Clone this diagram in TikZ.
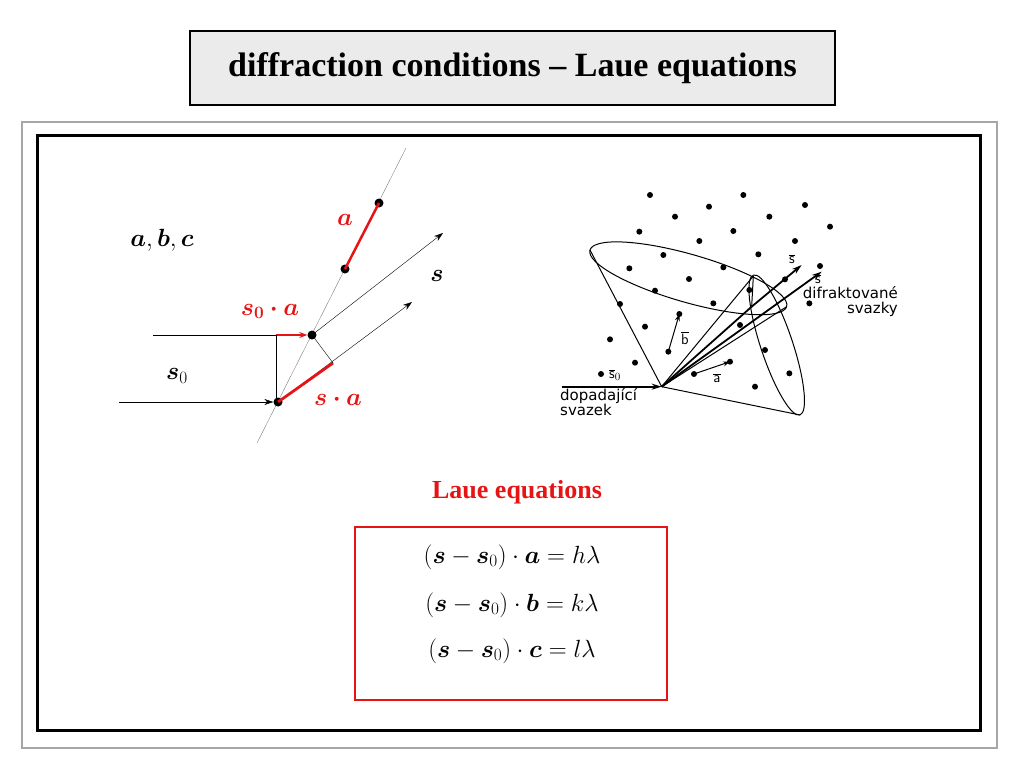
\documentclass[tikz,border=0pt]{standalone}
\usepackage{amsmath,bm}
\usepackage{fontspec}
\setmainfont{Liberation Serif}
\newfontfamily\czf{DejaVu Sans}
\usetikzlibrary{arrows.meta}
\definecolor{rd}{RGB}{230,20,20}
\begin{document}
\begin{tikzpicture}[x=1pt,y=-1pt,
  dot/.style={circle,fill=black,inner sep=0pt,minimum size=9pt},
  ray/.style={-{Stealth[length=9pt,width=6pt]},thin},
  thk/.style={-{Stealth[length=10pt,width=6pt]},line width=1.8pt},
  rl/.style={text=rd,font=\fontsize{25}{30}\selectfont},
  cz/.style={font=\czf\fontsize{15}{15}\selectfont,inner sep=0pt}]
\useasboundingbox (0,0) rectangle (1024,768);
% frames
\node[draw,line width=2pt,fill=black!8,minimum width=645pt,minimum height=74pt,anchor=north west,font=\bfseries\fontsize{34}{40}\selectfont] (title) at (189,30) {diffraction conditions -- Laue equations};
\draw[gray!70,line width=1.5pt] (22,122) rectangle (997,748);
\draw[line width=3pt] (37,135) rectangle (980,730);
% left figure
\coordinate (g1) at (257,443); \coordinate (g2) at (406,148);
\draw[gray] (g1) -- (g2);
\node[dot] (d1) at (379,203) {};
\node[dot] (d2) at (345,269) {};
\node[dot] (d3) at (312,335) {};
\node[dot] (d4) at (278,402) {};
\coordinate (e1) at (443,233); \coordinate (e2) at (412,302);
\coordinate (f) at (333,363);
\coordinate (i1) at (153,335); \coordinate (i2) at (119,402);
\coordinate (v) at (276,335); \coordinate (vb) at (276,402);
\draw[rd,line width=2.5pt] (d1.center) -- (d2.center);
\draw[ray] (d3.center) -- (e1);
\draw[ray] (d4.center) -- (e2);
\draw[rd,line width=2.8pt] (d4.center) -- (f);
\draw (d3.center) -- (f);
\draw (i1) -- (v);
\draw[rd,line width=2.5pt,-{Stealth[length=8pt,width=6pt]}] (v) -- (d3.west);
\draw (v) -- (vb);
\draw[ray] (i2) -- (d4.west);
\node[font=\fontsize{23}{28}\selectfont] (abc) at (162,240) {$\bm{a},\bm{b},\bm{c}$};
\node[font=\fontsize{23}{28}\selectfont] (sl) at (437,276) {$\bm{s}$};
\node[font=\fontsize{23}{28}\selectfont] (s0) at (177,376) {$\bm{s}_0$};
\node[rl] (l1) at (270,311) {$\bm{s_0\cdot a}$};
\node[rl] (l2) at (345,220) {$\bm{a}$};
\node[rl] (l3) at (338,400) {$\bm{s\cdot a}$};
% right figure: cone ellipses
\draw[line width=1pt,shift={(688.3,278.3)},rotate=-16] (0,0) ellipse [x radius=102.3,y radius=24];
\draw[line width=1pt,shift={(776.7,345)},rotate=-71.6] (0,0) ellipse [x radius=73.7,y radius=16];
\begin{scope}[shift={(540,170)},xscale=1/3,yscale=1/3]
\coordinate (ap) at (365,650);
\draw[line width=1pt] (ap) -- (150,240); \draw[line width=1pt] (ap) -- (780,735);
\draw[line width=1pt] (ap) -- (640,318); \draw[line width=1pt] (ap) -- (740,410);
\draw[line width=1pt] (640,318) -- (635,410);
\foreach \p in {(330,75),(610,75),(795,105),(507,110),(405,140),(688,140),(298,185),(580,183),(870,170),(478,213),(765,213),(370,255),(655,253),(268,295),(550,292),(447,327),(735,328),(840,288),(345,362),(628,360),(240,402),(520,400),(808,400),(600,465),(315,470),(210,508),(675,540),(285,578),(183,612),(462,612),(570,575),(748,610),(645,650),(418,432),(385,545)}
  \fill \p circle (9);
\coordinate (sa) at (785,285); \coordinate (sb) at (845,305);
\coordinate (st) at (635,410);
\draw[thk] (st) -- (sa);
\draw[thk] (ap) -- (sb);
\draw[line width=1.8pt] (ap) -- (st);
\coordinate (in) at (65,650);
\draw[thk] (in) -- (ap);
\draw[line width=1pt,-{Stealth[length=7pt,width=5pt]}] (462,612) -- (570,575);
\draw[line width=1pt,-{Stealth[length=7pt,width=5pt]}] (385,545) -- (418,432);
\end{scope}
\node[cz] (ts0) at (615,375) {$\overline{\mathsf{s}}_0$};
\node[cz,align=left,anchor=north west] (dop) at (560,388) {dopadající\\svazek};
\node[cz] (ta) at (717,378) {$\overline{\mathsf{a}}$};
\node[cz] (tb) at (685,338) {$\overline{\mathsf{b}}$};
\node[cz] (ts1) at (792,259) {$\overline{\mathsf{s}}$};
\node[cz] (ts2) at (818,279) {$\overline{\mathsf{s}}$};
\node[cz,align=right,anchor=north east] (dif) at (898,286) {difraktované\\svazky};
% equations
\node[text=rd,font=\bfseries\fontsize{26}{30}\selectfont] (lt) at (517,492) {Laue equations};
\draw[rd,line width=2.2pt] (355,527) rectangle (667,700);
\node[font=\fontsize{25}{30}\selectfont] (q1) at (512,557) {$(\bm{s}-\bm{s}_0)\cdot\bm{a}=h\lambda$};
\node[font=\fontsize{25}{30}\selectfont] (q2) at (512,605) {$(\bm{s}-\bm{s}_0)\cdot\bm{b}=k\lambda$};
\node[font=\fontsize{25}{30}\selectfont] (q3) at (512,651) {$(\bm{s}-\bm{s}_0)\cdot\bm{c}=l\lambda$};
\end{tikzpicture}
\end{document}
